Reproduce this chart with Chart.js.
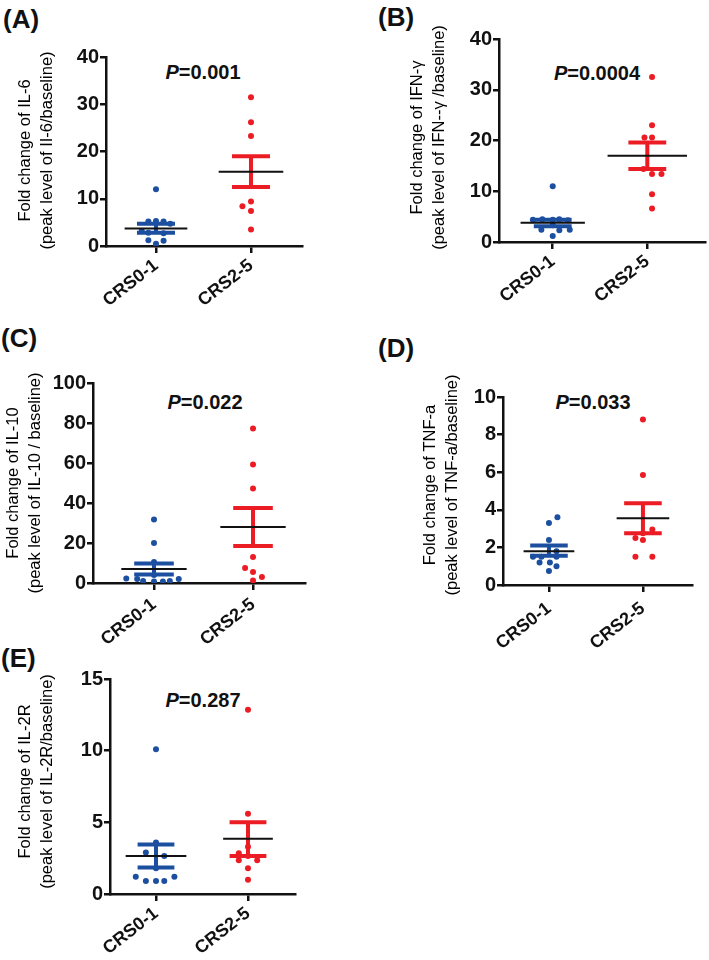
<!DOCTYPE html>
<html>
<head>
<meta charset="utf-8">
<script src="https://cdn.jsdelivr.net/npm/chart.js@4.4.1/dist/chart.umd.min.js"></script>
<style>
  body { margin: 0; background: #fff; }
  #page { position: relative; width: 709px; height: 960px; overflow: hidden; font-family: "Liberation Sans", Arial, sans-serif; color: #111; }
  #page canvas { position: absolute; }
  .tag { position: absolute; font-weight: bold; font-size: 26px; line-height: 26px; }
  .pval { position: absolute; font-weight: bold; font-size: 20px; line-height: 20px; transform: translate(-50%, -50%); white-space: nowrap; }
</style>
</head>
<body>
<div id="page">
  <div class="tag" style="left:3px;top:6px">(A)</div>
  <div class="tag" style="left:378px;top:4px">(B)</div>
  <div class="tag" style="left:1px;top:325px">(C)</div>
  <div class="tag" style="left:378px;top:335px">(D)</div>
  <div class="tag" style="left:1px;top:645px">(E)</div>
  <div class="pval" style="left:203px;top:72px"><i>P</i>=0.001</div>
  <div class="pval" style="left:597px;top:73px"><i>P</i>=0.0004</div>
  <div class="pval" style="left:205px;top:402px"><i>P</i>=0.022</div>
  <div class="pval" style="left:593px;top:402px"><i>P</i>=0.033</div>
  <div class="pval" style="left:203px;top:700px"><i>P</i>=0.287</div>
</div>
<script>
const groups = ["CRS0-1", "CRS2-5"];
const groupPos = [1, 2];

// IL-6
const il6Low = [12.0, 5.2, 5.3, 5.2, 4.7, 3.2, 2.8, 2.7, 1.2, 1.1, 0.5];
const il6LowX = [0, -0.08, 0, 0.08, 0.15, -0.15, -0.08, 0.08, -0.08, 0.08, 0];
const il6High = [31.5, 26.2, 23.3, 9.4, 8.4, 7.4, 3.5];
const il6HighX = [0, 0, 0, 0, -0.09, 0, 0];
const il6Mean = [3.7, 15.7];
const il6SemLo = [2.8, 12.5];
const il6SemHi = [4.7, 19.0];

// IFN-γ
const ifnLow = [11.0, 4.4, 4.5, 4.4, 4.5, 4.3, 3.3, 2.4, 2.3, 2.4, 1.2];
const ifnLowX = [0, -0.21, -0.11, 0, 0.07, 0.16, 0, -0.12, 0.07, 0.18, 0];
const ifnHigh = [32.5, 23.0, 20.6, 20.6, 14.4, 13.4, 13.4, 9.4, 6.6];
const ifnHighX = [0.05, 0.05, -0.03, 0.05, -0.04, 0.05, 0.15, 0.05, 0.05];
const ifnMean = [3.8, 17.0];
const ifnSemLo = [3.1, 14.4];
const ifnSemHi = [4.4, 19.6];

// IL-10
const il10Low = [31.7, 20.0, 10.5, 4.0, 2.2, 2.0, 1.0, 0.8, 0.8, 1.0, 2.0];
const il10LowX = [0, 0, 0, 0, -0.28, -0.17, -0.11, 0, 0.09, 0.16, 0.25];
const il10High = [77.2, 59.3, 47.3, 13.0, 7.5, 5.5, 3.0, 1.2];
const il10HighX = [0, 0, 0, 0, -0.08, 0, 0.09, 0];
const il10Mean = [7.0, 28.0];
const il10SemLo = [4.3, 18.5];
const il10SemHi = [9.8, 37.5];

// TNF-a
const tnfLow = [3.6, 3.3, 2.4, 1.8, 1.5, 1.5, 1.5, 1.2, 1.2, 1.0, 0.75];
const tnfLowX = [0.09, 0, 0, 0.08, -0.17, -0.08, 0.08, -0.1, 0.01, 0.08, 0];
const tnfHigh = [8.8, 5.85, 2.95, 2.75, 2.5, 2.4, 1.5, 1.5];
const tnfHighX = [0, 0, 0.1, 0, -0.08, 0, -0.08, 0.1];
const tnfMean = [1.8, 3.55];
const tnfSemLo = [1.55, 2.75];
const tnfSemHi = [2.1, 4.35];

// IL-2R
const il2rLow = [10.1, 3.6, 2.9, 2.65, 1.8, 1.2, 1.2, 0.9, 0.9, 0.9];
const il2rLowX = [0, 0, -0.11, 0.09, 0, -0.22, 0.2, -0.11, 0, 0.09];
const il2rHigh = [12.85, 5.6, 3.3, 2.85, 2.65, 2.35, 2.35, 1.8, 1.0];
const il2rHighX = [0, 0, 0, -0.1, 0, -0.1, 0.1, 0, 0];
const il2rMean = [2.65, 3.85];
const il2rSemLo = [1.85, 2.65];
const il2rSemHi = [3.45, 5.0];

const BLUE = "#1c4f9f";
const RED = "#ec1c24";
const INK = "#111";
const tickFont = { family: '"Liberation Sans", Arial, sans-serif', size: 20, weight: "bold" };
const groupFont = { family: '"Liberation Sans", Arial, sans-serif', size: 18, weight: "bold" };

const panels = [
  { box: { left: 0, top: 30, width: 330, height: 292 }, area: { left: 106, top: 57, right: 302, bottom: 246 },
    xMin: 0.474, xMax: 2.537, yMax: 40, yStep: 10, xPad: 2, titleX: 25, titleDy: -1,
    titles: ["Fold change of IL-6", "(peak level of II-6/baseline)"], meanHalf: [0.33, 0.34],
    low: il6Low, lowX: il6LowX, high: il6High, highX: il6HighX, mean: il6Mean, lo: il6SemLo, hi: il6SemHi },
  { box: { left: 360, top: 20, width: 349, height: 302 }, area: { left: 499, top: 39, right: 706, bottom: 242 },
    xMin: 0.432, xMax: 2.61, yMax: 40, yStep: 10, xPad: 2, titleX: 57, titleDy: -3,
    titles: ["Fold change of IFN-γ", "(peak level of IFN--γ /baseline)"], meanHalf: [0.34, 0.42],
    low: ifnLow, lowX: ifnLowX, high: ifnHigh, highX: ifnHighX, mean: ifnMean, lo: ifnSemLo, hi: ifnSemHi },
  { box: { left: 0, top: 360, width: 330, height: 315 }, area: { left: 93, top: 383, right: 305, bottom: 583 },
    xMin: 0.384, xMax: 2.525, yMax: 100, yStep: 20, xPad: 4, titleX: 13, titleDy: 0,
    titles: ["Fold change of IL-10", "(peak level of IL-10 / baseline)"], meanHalf: [0.33, 0.33],
    low: il10Low, lowX: il10LowX, high: il10High, highX: il10HighX, mean: il10Mean, lo: il10SemLo, hi: il10SemHi },
  { box: { left: 360, top: 370, width: 349, height: 305 }, area: { left: 503, top: 397, right: 692, bottom: 585 },
    xMin: 0.511, xMax: 2.522, yMax: 10, yStep: 2, xPad: 6, titleX: 70, titleDy: -6,
    titles: ["Fold change of TNF-a", "(peak level of TNF-a/baseline)"], meanHalf: [0.27, 0.28],
    low: tnfLow, lowX: tnfLowX, high: tnfHigh, highX: tnfHighX, mean: tnfMean, lo: tnfSemLo, hi: tnfSemHi },
  { box: { left: 0, top: 660, width: 330, height: 300 }, area: { left: 110, top: 679, right: 295, bottom: 894 },
    xMin: 0.5, xMax: 2.511, yMax: 15, yStep: 5, xPad: 2, titleX: 25, titleDy: -5,
    titles: ["Fold change of IL-2R", "(peak level of IL-2R/baseline)"], meanHalf: [0.33, 0.27],
    low: il2rLow, lowX: il2rLowX, high: il2rHigh, highX: il2rHighX, mean: il2rMean, lo: il2rSemLo, hi: il2rSemHi }
];

// two-line rotated y title
const sideTitle = {
  id: "sideTitle",
  afterDraw(chart, args, opts) {
    const { ctx, chartArea } = chart;
    ctx.save();
    ctx.translate(opts.x, (chartArea.top + chartArea.bottom) / 2 + opts.dy);
    ctx.rotate(-Math.PI / 2);
    ctx.font = '16.5px "Liberation Sans", Arial, sans-serif';
    ctx.fillStyle = "#000";
    ctx.textAlign = "center";
    ctx.textBaseline = "middle";
    opts.lines.forEach((t, i) => ctx.fillText(t, 0, i * 22));
    ctx.restore();
  }
};

function pointSet(vals, offs, g, color) {
  return {
    data: vals.map((v, i) => ({ x: groupPos[g] + offs[i], y: v })),
    backgroundColor: color, borderColor: color, pointRadius: 3, borderWidth: 0
  };
}

function lineSet(data, color, width) {
  return { data, showLine: true, spanGaps: false, pointRadius: 0, borderColor: color, borderWidth: width, borderCapStyle: "butt" };
}

function semData(g, lo, hi) {
  const x = groupPos[g], h = 0.2;
  return [
    { x: x - h, y: hi[g] }, { x: x + h, y: hi[g] }, { x: x, y: null },
    { x: x, y: hi[g] }, { x: x, y: lo[g] }, { x: x, y: null },
    { x: x - h, y: lo[g] }, { x: x + h, y: lo[g] }
  ];
}

function meanData(p) {
  const d = [];
  groupPos.forEach((x, g) => {
    d.push({ x: x - p.meanHalf[g], y: p.mean[g] }, { x: x + p.meanHalf[g], y: p.mean[g] }, { x: x, y: null });
  });
  return d;
}

const page = document.getElementById("page");
panels.forEach(p => {
  const canvas = document.createElement("canvas");
  canvas.width = p.box.width;
  canvas.height = p.box.height;
  canvas.style.left = p.box.left + "px";
  canvas.style.top = p.box.top + "px";
  canvas.style.width = p.box.width + "px";
  canvas.style.height = p.box.height + "px";
  page.appendChild(canvas);

  new Chart(canvas, {
    type: "scatter",
    data: {
      datasets: [
        lineSet(meanData(p), INK, 2),
        lineSet(semData(0, p.lo, p.hi), BLUE, 4),
        lineSet(semData(1, p.lo, p.hi), RED, 4),
        pointSet(p.low, p.lowX, 0, BLUE),
        pointSet(p.high, p.highX, 1, RED)
      ]
    },
    options: {
      responsive: false,
      animation: false,
      events: [],
      layout: { padding: { left: 0, bottom: 0, top: p.area.top - p.box.top, right: p.box.left + p.box.width - p.area.right } },
      plugins: {
        legend: { display: false },
        tooltip: { enabled: false },
        sideTitle: { x: p.titleX, dy: p.titleDy, lines: p.titles }
      },
      scales: {
        x: {
          type: "linear",
          min: p.xMin,
          max: p.xMax,
          afterBuildTicks: s => { s.ticks = groupPos.map(v => ({ value: v })); },
          afterFit: s => { s.height = p.box.top + p.box.height - p.area.bottom; },
          ticks: { callback: v => groups[v - 1], minRotation: 38, maxRotation: 38, padding: p.xPad, font: groupFont, color: INK },
          grid: { drawOnChartArea: false, tickLength: 7, lineWidth: 2.5, color: INK },
          border: { color: INK, width: 2.5 }
        },
        y: {
          min: 0,
          max: p.yMax,
          afterFit: s => { s.width = p.area.left - p.box.left; },
          ticks: { stepSize: p.yStep, padding: 1, font: tickFont, color: INK },
          grid: { drawOnChartArea: false, tickLength: 6, lineWidth: 2.5, color: INK },
          border: { color: INK, width: 2.5 }
        }
      }
    },
    plugins: [sideTitle]
  });
});
</script>
</body>
</html>
